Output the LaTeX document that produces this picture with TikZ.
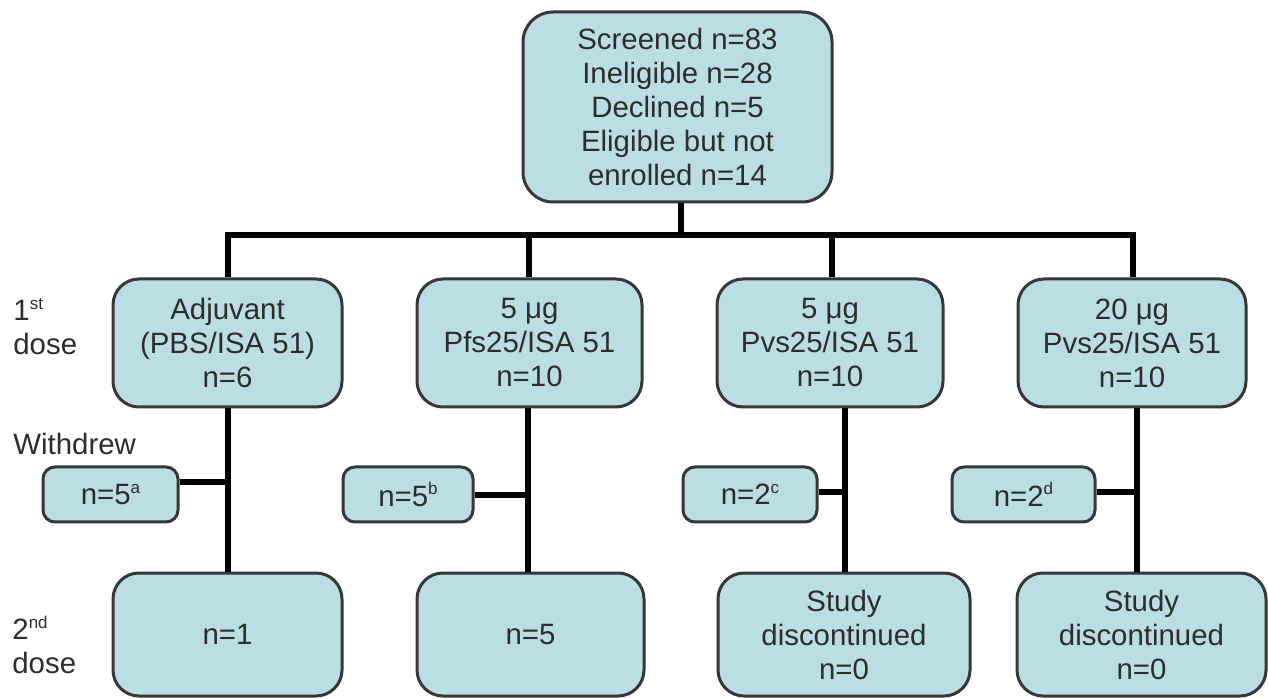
\documentclass[tikz,border=0pt]{standalone}
\usepackage{fontspec}
\setmainfont{Liberation Sans}
\definecolor{boxfill}{RGB}{186,222,228}
\definecolor{boxline}{RGB}{55,55,55}
\definecolor{txt}{RGB}{45,45,45}
\newcommand\mysup[1]{\raisebox{0.75ex}{\fontsize{8.5}{9}\selectfont #1}}
\begin{document}
\begin{tikzpicture}[x=0.5pt,y=-0.5pt,
  box/.style={draw=boxline, fill=boxfill, line width=1.5pt, rounded corners=13pt,
    text=txt, align=center, font=\fontsize{14.7}{17}\selectfont, inner sep=0pt},
  wbox/.style={box, rounded corners=6pt, minimum height=27.5pt},
  rowbox/.style={box, minimum height=64pt},
  dosebox/.style={box, minimum height=61.5pt},
  lbl/.style={text=txt, align=left, anchor=west, inner sep=0pt,
    font=\fontsize{14.7}{17}\selectfont},
  conn/.style={line width=3pt, black}
]
\useasboundingbox[fill=white] (0,0) rectangle (1268,699);

% top box
\node[box, minimum width=154.5pt, minimum height=95pt, rounded corners=15pt] (top) at (677.5,107)
  {Screened n=83\\Ineligible n=28\\Declined n=5\\Eligible but not\\enrolled n=14};

% first dose boxes
\node[rowbox, minimum width=114.5pt] (b1) at (227.5,343) {Adjuvant\\(PBS/ISA 51)\\n=6};
\node[rowbox, minimum width=112.5pt] (b2) at (529.5,343) {5 μg\\Pfs25/ISA 51\\n=10};
\node[rowbox, minimum width=113pt] (b3) at (830,343) {5 μg\\Pvs25/ISA 51\\n=10};
\node[rowbox, minimum width=114pt] (b4) at (1132,343) {20 μg\\Pvs25/ISA 51\\n=10};

% withdrew boxes
\node[wbox, minimum width=67.5pt] (w1) at (110.5,494.5) {n=5\mysup{a}};
\node[wbox, minimum width=65pt] (w2) at (408,494.5) {n=5\mysup{b}};
\node[wbox, minimum width=67pt] (w3) at (750,494.5) {n=2\mysup{c}};
\node[wbox, minimum width=71.5pt] (w4) at (1023.5,494.5) {n=2\mysup{d}};

% second dose boxes
\node[dosebox, minimum width=114.5pt] (c1) at (227.5,634.5) {n=1};
\node[dosebox, minimum width=113.5pt] (c2) at (530.5,634.5) {n=5};
\node[dosebox, minimum width=126pt] (c3) at (844,634.5) {Study\\discontinued\\n=0};
\node[dosebox, minimum width=124.5pt] (c4) at (1141.5,634.5) {Study\\discontinued\\n=0};

% row labels
\node[lbl] (l1) at (13,326.5) {1\mysup{st}\\dose};
\node[lbl] (l2) at (13,444) {Withdrew};
\node[lbl] (l3) at (12,645) {2\mysup{nd}\\dose};

% junction coordinates
\coordinate (bus) at (681,235);
\coordinate (t1) at (228,235);
\coordinate (t2) at (529,235);
\coordinate (t3) at (832,235);
\coordinate (t4) at (1133,235);
\coordinate (k1) at (228,482);
\coordinate (k2) at (528,495);
\coordinate (k3) at (845,492);
\coordinate (k4) at (1137,492);

% connectors
\draw[conn] (top.south -| bus) -- (bus);
\draw[conn, line cap=rect] (t1) -- (t4);
\draw[conn] (t1) -- (b1.north -| t1);
\draw[conn] (t2) -- (b2.north -| t2);
\draw[conn] (t3) -- (b3.north -| t3);
\draw[conn] (t4) -- (b4.north -| t4);
\draw[conn] (b1.south -| k1) -- (c1.north -| k1);
\draw[conn] (b2.south -| k2) -- (c2.north -| k2);
\draw[conn] (b3.south -| k3) -- (c3.north -| k3);
\draw[conn] (b4.south -| k4) -- (c4.north -| k4);
\draw[conn] (w1.east |- k1) -- (k1);
\draw[conn] (w2.east |- k2) -- (k2);
\draw[conn] (w3.east |- k3) -- (k3);
\draw[conn] (w4.east |- k4) -- (k4);
\end{tikzpicture}
\end{document}
